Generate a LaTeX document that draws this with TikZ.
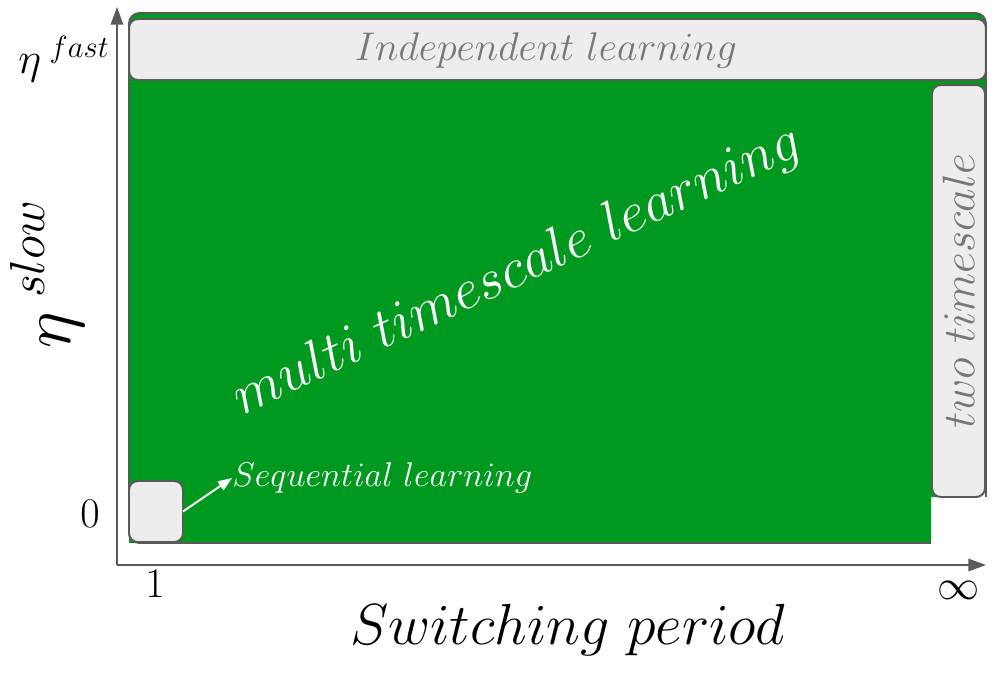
\documentclass[tikz,border=0pt]{standalone}
\usepackage{fix-cm}
\usetikzlibrary{arrows.meta}

\definecolor{regiongreen}{HTML}{00991F}
\definecolor{boxgray}{HTML}{EDEDED}
\definecolor{linegray}{HTML}{5A5A5A}
\definecolor{textgray}{HTML}{777777}

\tikzset{
  fs/.style={font=\fontsize{#1}{#1}\selectfont},
  regimebox/.style={draw=linegray, fill=boxgray, line width=1.1pt, rounded corners=5pt, inner sep=0pt, outer sep=0pt},
  axisline/.style={draw=linegray, line width=1.1pt, -{Triangle[length=10pt,width=7pt]}}
}

\begin{document}
\begin{tikzpicture}[x=0.02cm, y=-0.02cm]

\useasboundingbox (0,0) rectangle (999,680);

\coordinate (o) at (117,565);
\coordinate (ytop) at (117,7);
\coordinate (xend) at (986,565);

\draw[axisline] (o) -- (ytop);
\draw[axisline] (o) -- (xend);

% green region
\fill[regiongreen, rounded corners=6pt] (129,13) rectangle (986,497);
\fill[regiongreen] (129,470) rectangle (931,543);
\draw[linegray, line width=1.1pt, rounded corners=6pt] (931,543) -- (129,543) -- (129,13) -- (986,13) -- (986,497);

\node[regimebox, minimum width=17.14cm, minimum height=1.22cm] (indep) at (557.5,49.5) {};
\node[text=textgray, fs=22.8] (indeplabel) at (546,50) {$Independent\ learning$};
\node[regimebox, rotate=90, minimum width=8.24cm, minimum height=1.06cm, text=textgray, fs=26] (twoscale) at (958.5,291) {$two\ timescale$};
\node[regimebox, minimum width=1.08cm, minimum height=1.22cm] (seqbox) at (156,511.5) {};

\node[anchor=west, inner sep=0pt, text=white, fs=19.5] (seqlabel) at (232,478) {$Sequential\ learning$};
\draw[white, line width=1.1pt, -{Triangle[length=8pt,width=6pt]}] (seqbox.east) -- (seqlabel.west);

\node[text=white, fs=32.3, rotate=25] (multi) at (518,271) {$multi\ timescale\ learning$};

\node[fs=25] (etafast) at (64,59) {$\eta^{\;fast}$};
\node[fs=40, rotate=90] (etaslow) at (47,274) {$\eta^{\;slow}$};
\node[fs=24] (zero) at (90,514) {$0$};
\node[fs=24] (one) at (155,584) {$1$};
\node[fs=24] (infty) at (959,590) {$\infty$};
\node[fs=33] (xlabel) at (568,630) {$Switching\ period$};

\end{tikzpicture}
\end{document}
